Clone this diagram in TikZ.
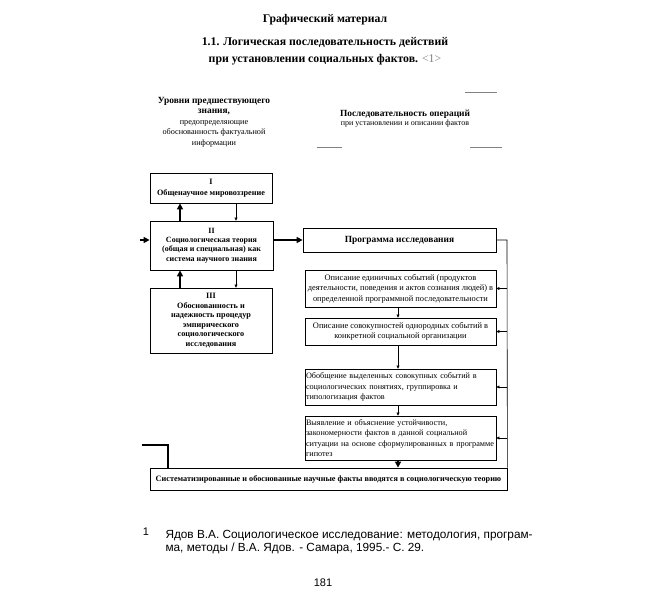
\documentclass[tikz,border=0pt]{standalone}
\usepackage{fontspec}
\setmainfont{Liberation Serif}
\newfontfamily\fnsans{Liberation Sans}
\usetikzlibrary{arrows.meta}
\tikzset{
  box/.style={draw, line width=0.8pt, inner sep=1pt, align=center},
  lbox/.style={draw, line width=0.8pt, inner sep=1pt},
  thickarr/.style={line width=1.8pt, -{Triangle[length=6pt,width=6pt]}},
  thinarr/.style={line width=0.5pt, -{Triangle[length=3pt,width=3pt]}},
  plain/.style={line width=0.6pt},
  scanmark/.style={line width=0.5pt, gray}
}
\begin{document}
\begin{tikzpicture}[x=1pt,y=-1pt]
\path[use as bounding box, fill=white] (0,0) rectangle (650,610);
% titles
\node[font=\fontsize{11.7}{12}\selectfont\bfseries] (t1) at (325,20) {Графический материал};
\node[font=\fontsize{11.8}{17}\selectfont\bfseries, align=center] (t2) at (325,51)
  {1.1. Логическая последовательность действий\\при установлении социальных фактов. {\mdseries\color{gray}<1>}};
% headers
\node[align=center, font=\fontsize{8.2}{10.5}\selectfont] (hl) at (214,122)
  {\fontsize{9.4}{10.5}\selectfont\bfseries Уровни предшествующего\\ \fontsize{9.4}{10.5}\selectfont\bfseries знания,\\предопределяющие\\обоснованность фактуальной\\информации};
\node[align=center, font=\fontsize{8}{9.5}\selectfont] (hr) at (405,118.5)
  {\fontsize{9.4}{9.5}\selectfont\bfseries Последовательность операций\\при установлении и описании фактов};
\draw[scanmark] (465,92) -- (497,92);
\draw[scanmark] (317,147) -- (342,147);
\draw[scanmark] (470,147) -- (502,147);
% left column
\node[box, minimum width=122, minimum height=30, font=\fontsize{8.2}{11}\selectfont\bfseries] (I) at (211,188)
  {I\\Общенаучное мировоззрение};
\node[box, minimum width=123, minimum height=49, font=\fontsize{8}{9.4}\selectfont\bfseries] (II) at (211.5,245.5)
  {II\\Социологическая теория\\(общая и специальная) как\\система научного знания};
\node[box, minimum width=122, minimum height=65, font=\fontsize{8.2}{9.5}\selectfont\bfseries] (III) at (211,320.5)
  {III\\Обоснованность и\\надежность процедур\\эмпирического\\социологического\\исследования};
\draw[thickarr] (II.north -| 180,0) -- (I.south -| 180,0);
\draw[thinarr] (I.south -| 236,0) -- (II.north -| 236,0);
\draw[thickarr] (III.north -| 180,0) -- (II.south -| 180,0);
\draw[thinarr] (II.south -| 236,0) -- (III.north -| 236,0);
% right column
\node[box, minimum width=193, minimum height=24, font=\fontsize{9.4}{10}\selectfont\bfseries] (prog) at (399.5,240)
  {Программа исследования};
\node[box, minimum width=191, minimum height=37, inner sep=0.5pt, font=\fontsize{8.4}{10.5}\selectfont] (r1) at (400.5,288.5)
  {Описание единичных событий (продуктов\\деятельности, поведения и актов сознания людей) в\\определенной программной последовательности};
\node[box, minimum width=191, minimum height=27, font=\fontsize{8.4}{10.5}\selectfont] (r2) at (400.5,331.5)
  {Описание совокупностей однородных событий в\\конкретной социальной организации};
\node[lbox, minimum width=191, minimum height=36, align=left, text width=189, inner xsep=1pt, font=\fontsize{8.2}{10.5}\selectfont] (r3) at (400.5,387)
  {Обобщение выделенных совокупных событий в\\социологических понятиях, группировка и\\типологизация фактов};
\node[lbox, minimum width=191, minimum height=44, align=left, text width=189, inner xsep=1pt, inner ysep=0.5pt, font=\fontsize{8.2}{10.3}\selectfont] (r4) at (400.5,438)
  {Выявление и объяснение устойчивости,\\закономерности фактов в данной социальной\\ситуации на основе сформулированных в программе\\гипотез};
\node[box, minimum width=357, minimum height=22, font=\fontsize{8.2}{9}\selectfont\bfseries] (bar) at (328.5,479)
  {Систематизированные и обоснованные научные факты вводятся в социологическую теорию};
\draw[thickarr] (II.east |- prog.west) -- (prog.west);
\draw[thinarr] (r1.south -| 398,0) -- (r2.north -| 398,0);
\draw[thinarr] (r2.south -| 398,0) -- (r3.north -| 398,0);
\draw[thinarr] (r3.south -| 398,0) -- (r4.north -| 398,0);
\draw[thickarr] (r4.south -| 398,0) -- (bar.north -| 398,0);
% right feedback line
\coordinate (rt) at (507,240);
\draw[plain] (prog.east) -- (rt) -- (bar.north east);
\draw[thinarr] (r1.east -| rt) -- (r1.east);
\draw[thinarr] (r2.east -| rt) -- (r2.east);
\draw[thinarr] (r3.east -| rt) -- (r3.east);
\draw[thinarr] (r4.east -| rt) -- (r4.east);
% left feedback
\coordinate (fbA) at (142,445);
\coordinate (fbB) at (168,445);
\draw[line width=1.3pt] (fbA) -- (fbB) -- (fbB |- bar.north);
\coordinate (fbC) at (140,240);
\draw[thickarr] (fbC) -- (II.west |- fbC);
% footnote
\node[font=\fnsans\fontsize{11}{12}\selectfont] (fn1) at (146,532) {1};
\node[font=\fnsans\fontsize{11.8}{12.5}\selectfont, align=left, anchor=north west] (fn) at (162,527)
  {Ядов В.А. Социологическое исследование: методология, програм-\\ма, методы / В.А. Ядов. - Самара, 1995.- С. 29.};
\node[font=\fnsans\fontsize{11}{12}\selectfont] (pg) at (323,583) {181};
\end{tikzpicture}
\end{document}
